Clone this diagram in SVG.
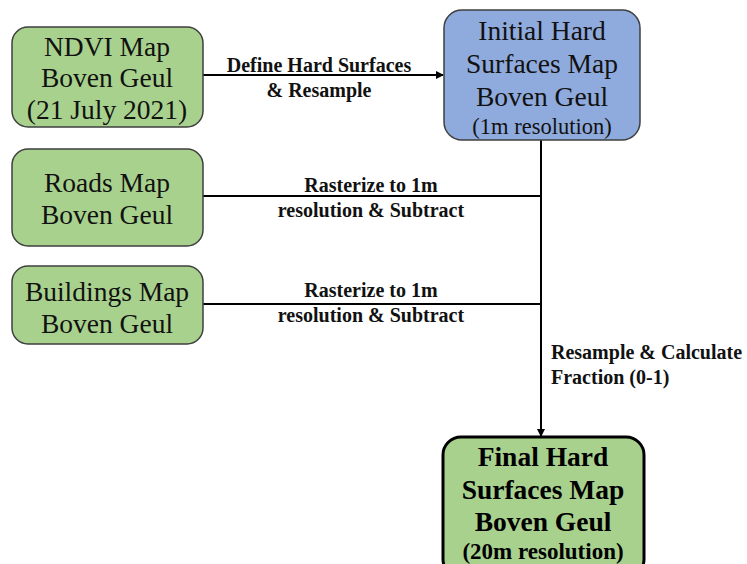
<svg xmlns="http://www.w3.org/2000/svg" width="747" height="564" viewBox="0 0 747 564">
<style>
.box{fill:#a9d18e;stroke:#3f3f3f;stroke-width:1.5}
.blue{fill:#8faadc;stroke:#3f3f3f;stroke-width:1.5}
.final{fill:#a9d18e;stroke:#000;stroke-width:3}
.t{font-family:"Liberation Serif","Times New Roman",serif;font-size:27.5px;fill:#111;text-anchor:middle}
.ts{font-family:"Liberation Serif","Times New Roman",serif;font-size:22.5px;fill:#111;text-anchor:middle}
.tb{font-family:"Liberation Serif","Times New Roman",serif;font-size:27.5px;font-weight:bold;fill:#000;text-anchor:middle}
.tbs{font-family:"Liberation Serif","Times New Roman",serif;font-size:23px;font-weight:bold;fill:#000;text-anchor:middle}
.lbl{font-family:"Liberation Serif","Times New Roman",serif;font-size:20px;font-weight:bold;fill:#111;text-anchor:middle}
.line{stroke:#000;stroke-width:2;fill:none}
</style>
<defs>
<marker id="ah" markerWidth="8" markerHeight="8" refX="7" refY="4" orient="auto" markerUnits="userSpaceOnUse">
<path d="M0,0 L8,4 L0,8 Z" fill="#000"/>
</marker>
</defs>
<g id="connectors">
<line class="line" x1="203" y1="75" x2="443" y2="75" marker-end="url(#ah)"/>
<line class="line" x1="541" y1="140" x2="541" y2="436" marker-end="url(#ah)"/>
<line class="line" x1="203" y1="196" x2="541" y2="196"/>
<line class="line" x1="203" y1="304" x2="541" y2="304"/>
<text class="lbl" x="319" y="72">Define Hard Surfaces</text>
<text class="lbl" x="319" y="97">&amp; Resample</text>
<text class="lbl" x="371" y="192">Rasterize to 1m</text>
<text class="lbl" x="371" y="217">resolution &amp; Subtract</text>
<text class="lbl" x="371" y="297">Rasterize to 1m</text>
<text class="lbl" x="371" y="322">resolution &amp; Subtract</text>
<text class="lbl" x="551" y="359" style="text-anchor:start">Resample &amp; Calculate</text>
<text class="lbl" x="551" y="384" style="text-anchor:start">Fraction (0-1)</text>
</g>
<g id="ndvi">
<rect class="box" x="12" y="27" width="191" height="100" rx="16"/>
<text class="t" x="107" y="56">NDVI Map</text>
<text class="t" x="107" y="87">Boven Geul</text>
<text class="t" x="107" y="119">(21 July 2021)</text>
</g>
<g id="initial">
<rect class="blue" x="444" y="10" width="196" height="130" rx="18"/>
<text class="t" x="542" y="40">Initial Hard</text>
<text class="t" x="542" y="73">Surfaces Map</text>
<text class="t" x="542" y="106">Boven Geul</text>
<text class="ts" x="542" y="134">(1m resolution)</text>
</g>
<g id="roads">
<rect class="box" x="12" y="149" width="191" height="97" rx="16"/>
<text class="t" x="107" y="192">Roads Map</text>
<text class="t" x="107" y="224">Boven Geul</text>
</g>
<g id="buildings">
<rect class="box" x="12" y="266" width="191" height="78" rx="16"/>
<text class="t" x="107" y="301">Buildings Map</text>
<text class="t" x="107" y="333">Boven Geul</text>
</g>
<g id="final">
<rect class="final" x="443" y="437" width="201" height="140" rx="18"/>
<text class="tb" x="543" y="466">Final Hard</text>
<text class="tb" x="543" y="499">Surfaces Map</text>
<text class="tb" x="543" y="531">Boven Geul</text>
<text class="tbs" x="543" y="559">(20m resolution)</text>
</g>
</svg>
